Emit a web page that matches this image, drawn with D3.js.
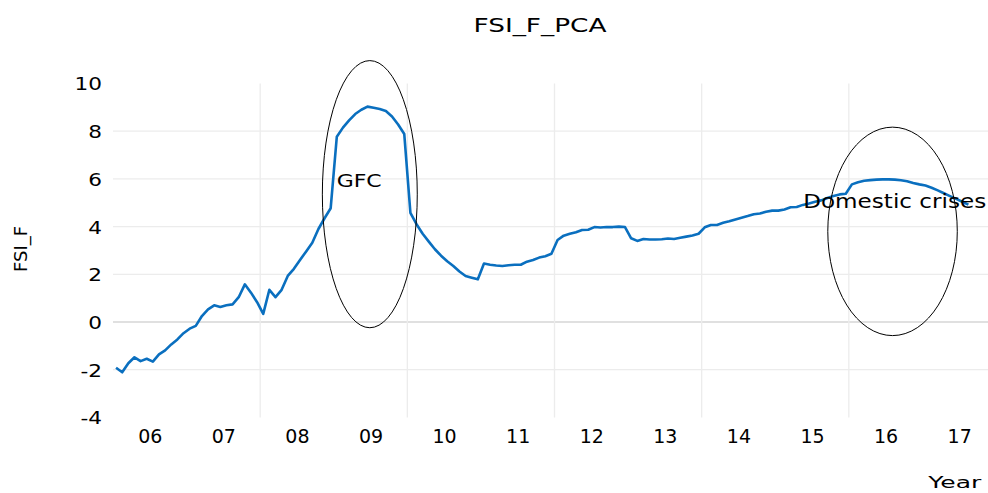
<!DOCTYPE html>
<html>
<head>
<meta charset="utf-8">
<script src="https://cdn.jsdelivr.net/npm/d3@7"></script>
<style>
  body { margin: 0; background: #fff; }
  svg text { font-family: "DejaVu Sans", sans-serif; fill: #000; }
</style>
</head>
<body>
<svg id="chart" width="988" height="493"></svg>
<script>
// monthly FSI_F values, Jan 2006 .. Aug 2017
const fsiValues = [
  -1.92, -2.11, -1.73, -1.48, -1.64, -1.54, -1.66, -1.36, -1.19, -0.94, -0.73, -0.47,
  -0.28, -0.16, 0.25, 0.53, 0.70, 0.63, 0.70, 0.74, 1.04, 1.58, 1.23, 0.83,
  0.34, 1.35, 1.04, 1.35, 1.93, 2.23, 2.60, 2.96, 3.32, 3.90, 4.35, 4.77,
  7.77, 8.15, 8.45, 8.72, 8.90, 9.03, 8.98, 8.93, 8.85, 8.62, 8.28, 7.88,
  4.58, 4.10, 3.70, 3.37, 3.05, 2.78, 2.55, 2.35, 2.12, 1.93, 1.86, 1.79,
  2.45, 2.40, 2.37, 2.35, 2.38, 2.40, 2.40, 2.53, 2.60, 2.70, 2.76, 2.86,
  3.44, 3.62, 3.70, 3.76, 3.86, 3.87, 3.98, 3.96, 3.98, 3.98, 4.00, 3.98,
  3.51, 3.40, 3.48, 3.46, 3.46, 3.47, 3.50, 3.48, 3.53, 3.58, 3.63, 3.70,
  3.97, 4.07, 4.07, 4.16, 4.22, 4.30, 4.37, 4.44, 4.52, 4.55, 4.62, 4.67,
  4.67, 4.72, 4.81, 4.82, 4.91, 4.97, 5.04, 5.10, 5.20, 5.28, 5.35, 5.38,
  5.77, 5.86, 5.92, 5.95, 5.97, 5.98, 5.98, 5.97, 5.94, 5.90, 5.83, 5.77,
  5.72, 5.63, 5.52, 5.40, 5.28, 5.16, 5.04, 4.92
];
const startYear = 2006;
const yTicks = [-4, -2, 0, 2, 4, 6, 8, 10];
const yGrid = [-2, 0, 2, 4, 6, 8];
const yearLabels = ["06", "07", "08", "09", "10", "11", "12", "13", "14", "15", "16", "17"];
const gridYears = [2008, 2010, 2012, 2014, 2016];

// circled periods, in data units (year, FSI value)
const notes = [
  { label: "GFC", cx: 2009.49, cy: 5.36, rx: 0.645, ry: 5.6, tx: 2009.04, ty: 5.65, size: 17, len: 45 },
  { label: "Domestic crises", cx: 2016.594, cy: 3.80, rx: 0.88, ry: 4.37, tx: 2015.38, ty: 4.77, size: 19.5, len: 183 }
];

const svg = d3.select("#chart");

const x = d3.scaleLinear().domain([2006, 2018]).range([113, 996]);
const y = d3.scaleLinear().domain([-4, 10]).range([417.4, 83.5]);

// gridlines
svg.append("g")
  .selectAll("line")
  .data(yGrid)
  .join("line")
  .attr("x1", x(2006)).attr("x2", 988)
  .attr("y1", d => y(d)).attr("y2", d => y(d))
  .attr("stroke", d => d === 0 ? "#d6d6d6" : "#ececec")
  .attr("stroke-width", 1.3);

svg.append("g")
  .selectAll("line")
  .data(gridYears)
  .join("line")
  .attr("x1", d => x(d)).attr("x2", d => x(d))
  .attr("y1", y(10)).attr("y2", y(-4))
  .attr("stroke", "#ececec")
  .attr("stroke-width", 1.3);

// y axis (plain hyphen for negatives, like the original)
const yAxis = svg.append("g")
  .attr("transform", `translate(${x(2006)},0)`)
  .call(d3.axisLeft(y).tickValues(yTicks).tickFormat(d => String(d)).tickSize(0).tickPadding(11));
yAxis.select(".domain").remove();
yAxis.selectAll("text")
  .attr("font-family", "DejaVu Sans")
  .attr("font-size", 18)
  .attr("dy", "0.36em")
  .each(function () {
    const w = this.getComputedTextLength();
    d3.select(this).attr("textLength", w * 1.2).attr("lengthAdjust", "spacingAndGlyphs");
  });

// x axis, labels centred in each year
const xAxis = svg.append("g")
  .attr("transform", `translate(0,${y(-4)})`)
  .call(d3.axisBottom(x)
    .tickValues(yearLabels.map((d, i) => startYear + i + 0.5))
    .tickFormat((d, i) => yearLabels[i])
    .tickSize(0).tickPadding(12));
xAxis.select(".domain").remove();
xAxis.selectAll("text")
  .attr("font-family", "Liberation Sans, Arial, sans-serif")
  .attr("font-size", 19);

// the series
const line = d3.line()
  .x((d, i) => x(startYear + (i + 0.5) / 12))
  .y(d => y(d));

svg.append("path")
  .datum(fsiValues)
  .attr("fill", "none")
  .attr("stroke", "#0a6fbf")
  .attr("stroke-width", 2.6)
  .attr("stroke-linejoin", "round")
  .attr("d", line);

// ellipses and their labels
svg.append("g")
  .selectAll("ellipse")
  .data(notes)
  .join("ellipse")
  .attr("cx", d => x(d.cx))
  .attr("cy", d => y(d.cy))
  .attr("rx", d => x(d.cx + d.rx) - x(d.cx))
  .attr("ry", d => y(d.cy - d.ry) - y(d.cy))
  .attr("fill", "none")
  .attr("stroke", "#000")
  .attr("stroke-width", 1);

svg.append("g")
  .selectAll("text")
  .data(notes)
  .join("text")
  .attr("x", d => x(d.tx))
  .attr("y", d => y(d.ty))
  .attr("font-size", d => d.size)
  .attr("textLength", d => d.len)
  .attr("lengthAdjust", "spacingAndGlyphs")
  .text(d => d.label);

// titles
svg.append("text")
  .attr("x", 540)
  .attr("y", 31.7)
  .attr("text-anchor", "middle")
  .attr("font-size", 20)
  .attr("textLength", 133)
  .attr("lengthAdjust", "spacingAndGlyphs")
  .text("FSI_F_PCA");

svg.append("text")
  .attr("transform", "translate(27,249) rotate(-90)")
  .attr("text-anchor", "middle")
  .attr("font-size", 18)
  .text("FSI_F");

svg.append("text")
  .attr("x", 928.3)
  .attr("y", 488)
  .attr("font-size", 16.5)
  .attr("textLength", 53)
  .attr("lengthAdjust", "spacingAndGlyphs")
  .text("Year");
</script>
</body>
</html>
